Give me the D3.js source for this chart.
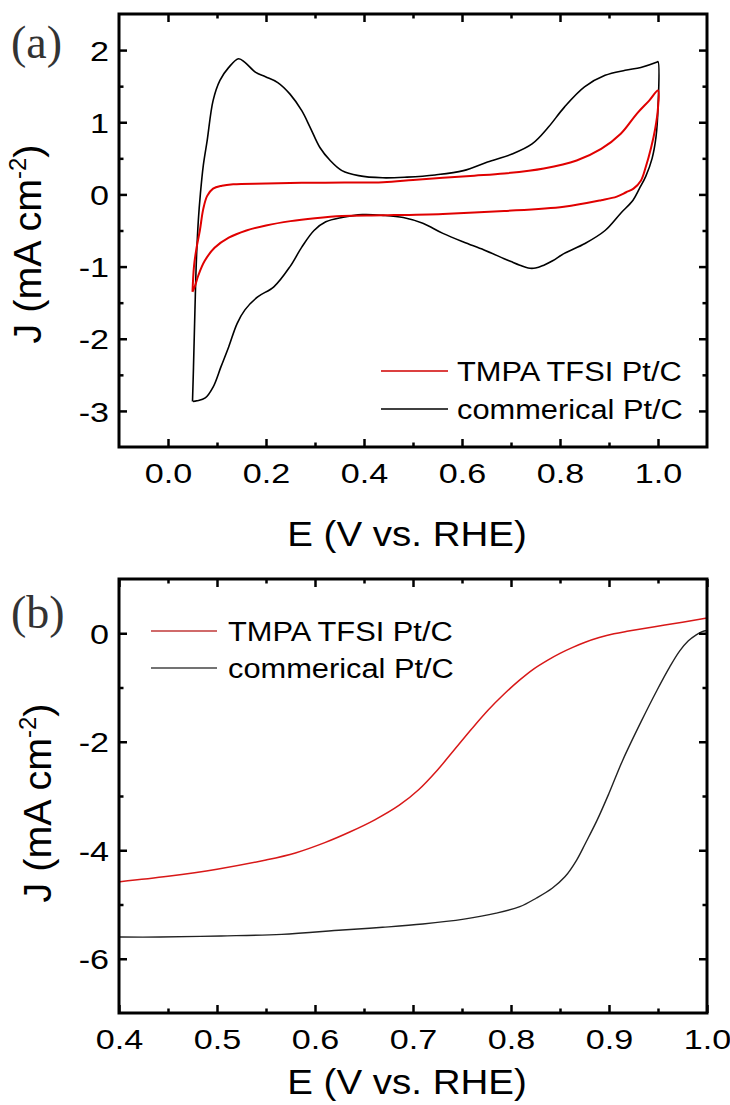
<!DOCTYPE html>
<html>
<head>
<meta charset="utf-8">
<script src="https://cdn.jsdelivr.net/npm/d3@7"></script>
<style>
  html, body { margin: 0; padding: 0; background: #fff; }
  svg { display: block; }
</style>
</head>
<body>
<div id="chart"></div>
<script>
// ---------------- DATA ----------------
// Panel (a): cyclic voltammograms (E in V vs RHE, J in mA cm^-2), closed loops
const cvCommE = [0.050, 0.052, 0.055, 0.058, 0.062, 0.066, 0.072, 0.080, 0.092, 0.106, 0.124, 0.144, 0.157, 0.179, 0.199, 0.224, 0.249, 0.273, 0.290, 0.310, 0.331, 0.355, 0.389, 0.438, 0.488, 0.545, 0.603, 0.652, 0.702, 0.743, 0.776, 0.809, 0.850, 0.892, 0.933, 0.965, 0.997, 1.000, 1.000, 0.996, 0.988, 0.975, 0.962, 0.949, 0.924, 0.892, 0.851, 0.808, 0.785, 0.767, 0.750, 0.735, 0.718, 0.700, 0.686, 0.645, 0.603, 0.561, 0.520, 0.480, 0.439, 0.397, 0.355, 0.322, 0.298, 0.273, 0.249, 0.216, 0.183, 0.157, 0.141, 0.124, 0.108, 0.092, 0.076, 0.059, 0.051];
const cvCommJ = [-2.87, -2.40, -1.60, -0.90, -0.35, 0.00, 0.40, 0.75, 1.30, 1.58, 1.76, 1.88, 1.83, 1.69, 1.63, 1.55, 1.39, 1.16, 0.93, 0.65, 0.47, 0.33, 0.26, 0.23, 0.24, 0.27, 0.33, 0.45, 0.56, 0.70, 0.93, 1.21, 1.49, 1.65, 1.72, 1.76, 1.83, 1.84, 1.20, 0.80, 0.50, 0.25, 0.08, -0.08, -0.26, -0.50, -0.68, -0.82, -0.92, -0.98, -1.02, -1.02, -0.98, -0.93, -0.89, -0.77, -0.66, -0.54, -0.40, -0.32, -0.29, -0.28, -0.32, -0.38, -0.50, -0.73, -1.00, -1.28, -1.42, -1.60, -1.79, -2.11, -2.39, -2.67, -2.82, -2.86, -2.87];

const cvTmpaE = [0.050, 0.053, 0.058, 0.065, 0.072, 0.080, 0.092, 0.110, 0.133, 0.200, 0.273, 0.360, 0.439, 0.500, 0.561, 0.625, 0.686, 0.767, 0.834, 0.884, 0.924, 0.957, 0.982, 1.000, 1.000, 0.994, 0.986, 0.975, 0.965, 0.950, 0.935, 0.916, 0.884, 0.808, 0.686, 0.561, 0.439, 0.355, 0.300, 0.250, 0.200, 0.160, 0.124, 0.095, 0.075, 0.062, 0.055, 0.050];
const cvTmpaJ = [-1.35, -1.00, -0.75, -0.50, -0.20, -0.02, 0.08, 0.12, 0.14, 0.15, 0.16, 0.165, 0.17, 0.20, 0.23, 0.26, 0.29, 0.36, 0.47, 0.63, 0.84, 1.12, 1.30, 1.44, 1.20, 0.90, 0.65, 0.38, 0.19, 0.08, 0.03, -0.03, -0.08, -0.17, -0.23, -0.27, -0.29, -0.30, -0.33, -0.37, -0.43, -0.50, -0.60, -0.74, -0.92, -1.12, -1.27, -1.35];

// Panel (b): linear sweep voltammograms
const lsvTmpaE = [0.401, 0.450, 0.500, 0.550, 0.580, 0.610, 0.636, 0.661, 0.686, 0.706, 0.725, 0.743, 0.760, 0.777, 0.793, 0.809, 0.823, 0.838, 0.850, 0.863, 0.875, 0.890, 0.905, 0.920, 0.957, 1.000];
const lsvTmpaJ = [-4.58, -4.48, -4.35, -4.18, -4.05, -3.86, -3.66, -3.44, -3.17, -2.88, -2.52, -2.13, -1.76, -1.41, -1.12, -0.86, -0.66, -0.49, -0.37, -0.26, -0.17, -0.08, -0.01, 0.04, 0.15, 0.28];

const lsvCommE = [0.401, 0.442, 0.504, 0.566, 0.628, 0.669, 0.710, 0.752, 0.785, 0.809, 0.826, 0.842, 0.855, 0.867, 0.876, 0.888, 0.900, 0.914, 0.933, 0.949, 0.962, 0.972, 0.981, 0.989, 0.995, 1.000];
const lsvCommJ = [-5.60, -5.60, -5.58, -5.55, -5.47, -5.42, -5.36, -5.27, -5.16, -5.04, -4.88, -4.70, -4.49, -4.18, -3.87, -3.44, -2.95, -2.34, -1.62, -1.05, -0.62, -0.33, -0.14, -0.03, 0.03, 0.05];

const seriesNames = ["TMPA TFSI Pt/C", "commerical Pt/C"];
const panelLabels = ["(a)", "(b)"];

const aXMajor = [0.0, 0.2, 0.4, 0.6, 0.8, 1.0];
const aXMinor = [0.1, 0.3, 0.5, 0.7, 0.9];
const aYMajor = [-3, -2, -1, 0, 1, 2];
const aYMinor = [-2.5, -1.5, -0.5, 0.5, 1.5];
const bXMajor = [0.4, 0.5, 0.6, 0.7, 0.8, 0.9, 1.0];
const bXMinor = [0.45, 0.55, 0.65, 0.75, 0.85, 0.95];
const bYMajor = [-6, -4, -2, 0];
const bYMinor = [-5, -3, -1];

// ---------------- DRAW ----------------
const W = 730, H = 1105;
const SANS = "Liberation Sans, Arial, sans-serif";
const SERIF = "Liberation Serif, Times New Roman, serif";
const svg = d3.select("#chart").append("svg").attr("width", W).attr("height", H)
  .attr("font-family", SANS);

function zip(E, J) { return E.map((e, i) => [e, J[i]]); }

function panel(opts) {
  const { x, y, xMajor, xMinor, yMajor, yMinor, xFmt, yFmt, xLabelY, yLabelX, yLabelC } = opts;
  const [x0, x1] = x.range();
  const [yb, yt] = y.range();
  const g = svg.append("g");
  const MAJ = 8, MIN = 4.5;

  function styleAxis(sel) {
    sel.select(".domain").remove();
    sel.selectAll("line").attr("stroke", "#000").attr("stroke-width", 2.5);
  }
  // bottom
  const gb = g.append("g").attr("transform", `translate(0,${yb})`)
    .call(d3.axisBottom(x).tickValues(xMajor).tickSize(-MAJ).tickFormat(xFmt));
  styleAxis(gb);
  gb.selectAll("text").attr("y", 36).attr("dy", null)
    .attr("font-size", 28).attr("transform", "scale(1.22,1)")
    .attr("font-family", SANS).attr("fill", "#000");
  styleAxis(g.append("g").attr("transform", `translate(0,${yb})`)
    .call(d3.axisBottom(x).tickValues(xMinor).tickSize(-MIN).tickFormat("")));
  // top
  styleAxis(g.append("g").attr("transform", `translate(0,${yt})`)
    .call(d3.axisTop(x).tickValues(xMajor).tickSize(-MAJ).tickFormat("")));
  styleAxis(g.append("g").attr("transform", `translate(0,${yt})`)
    .call(d3.axisTop(x).tickValues(xMinor).tickSize(-MIN).tickFormat("")));
  // left
  const gl = g.append("g").attr("transform", `translate(${x0},0)`)
    .call(d3.axisLeft(y).tickValues(yMajor).tickSize(-MAJ).tickFormat(yFmt));
  styleAxis(gl);
  gl.selectAll("text").attr("x", -10 / 1.22).attr("dy", "0.36em")
    .attr("font-size", 28).attr("transform", "scale(1.22,1)")
    .attr("font-family", SANS).attr("fill", "#000");
  styleAxis(g.append("g").attr("transform", `translate(${x0},0)`)
    .call(d3.axisLeft(y).tickValues(yMinor).tickSize(-MIN).tickFormat("")));
  // right
  styleAxis(g.append("g").attr("transform", `translate(${x1},0)`)
    .call(d3.axisRight(y).tickValues(yMajor).tickSize(-MAJ).tickFormat("")));
  styleAxis(g.append("g").attr("transform", `translate(${x1},0)`)
    .call(d3.axisRight(y).tickValues(yMinor).tickSize(-MIN).tickFormat("")));

  // axis titles
  g.append("text").attr("text-anchor", "middle")
    .attr("transform", `translate(${(x0 + x1) / 2 - 6},${xLabelY}) scale(1.1,1)`)
    .attr("font-size", 35).text("E (V vs. RHE)");
  const yl = g.append("text").attr("text-anchor", "middle")
    .attr("transform", `translate(${yLabelX},${yLabelC}) rotate(-90) scale(1.04,1)`)
    .attr("font-size", 38);
  yl.append("tspan").text("J (mA cm");
  yl.append("tspan").attr("font-size", 23).attr("dy", -15).text("-2");
  yl.append("tspan").attr("dy", 15).text(")");
  return g;
}

// Panel (a)
const xA = d3.scaleLinear().domain([-0.1, 1.1]).range([119, 707]);
const yA = d3.scaleLinear().domain([-3.5, 2.5]).range([447, 14]);
// Panel (b)
const xB = d3.scaleLinear().domain([0.4, 1.0]).range([119, 707]);
const yB = d3.scaleLinear().domain([-7, 1]).range([1013, 579]);

const lineA = d3.line().x(d => xA(d[0])).y(d => yA(d[1])).curve(d3.curveCatmullRom.alpha(0.5));
const lineB = d3.line().x(d => xB(d[0])).y(d => yB(d[1])).curve(d3.curveCatmullRom.alpha(0.5));

// curves (a)
svg.append("path").datum(zip(cvCommE, cvCommJ)).attr("d", lineA)
  .attr("fill", "none").attr("stroke", "#000").attr("stroke-width", 1.6);
svg.append("path").datum(zip(cvTmpaE, cvTmpaJ)).attr("d", lineA)
  .attr("fill", "none").attr("stroke", "#e00000").attr("stroke-width", 2);
// curves (b)
svg.append("path").datum(zip(lsvCommE, lsvCommJ)).attr("d", lineB)
  .attr("fill", "none").attr("stroke", "#222").attr("stroke-width", 1.4);
svg.append("path").datum(zip(lsvTmpaE, lsvTmpaJ)).attr("d", lineB)
  .attr("fill", "none").attr("stroke", "#d81818").attr("stroke-width", 1.5);

const intFmt = d => d3.format("d")(d).replace("\u2212", "-");
panel({ x: xA, y: yA, xMajor: aXMajor, xMinor: aXMinor, yMajor: aYMajor, yMinor: aYMinor,
  xFmt: d3.format(".1f"), yFmt: intFmt, xLabelY: 546, yLabelX: 41, yLabelC: 244 });
panel({ x: xB, y: yB, xMajor: bXMajor, xMinor: bXMinor, yMajor: bYMajor, yMinor: bYMinor,
  xFmt: d3.format(".1f"), yFmt: intFmt, xLabelY: 1094, yLabelX: 51, yLabelC: 803 });

// frames
[[xA, yA], [xB, yB]].forEach(([x, y]) => {
  const [x0, x1] = x.range(); const [yb, yt] = y.range();
  svg.append("rect").attr("x", x0).attr("y", yt).attr("width", x1 - x0).attr("height", yb - yt)
    .attr("fill", "none").attr("stroke", "#000").attr("stroke-width", 3);
});

// legends
function legend(lx0, lx1, tx, ys, colors, widths) {
  seriesNames.forEach((name, i) => {
    svg.append("line").attr("x1", lx0).attr("x2", lx1).attr("y1", ys[i]).attr("y2", ys[i])
      .attr("stroke", colors[i]).attr("stroke-width", widths[i]);
    svg.append("text").attr("transform", `translate(${tx},${ys[i] + 10}) scale(1.1,1)`)
      .attr("font-size", 28).attr("fill", "#000").text(name);
  });
}
legend(381, 448, 457, [371, 409], ["#d00000", "#000"], [1.5, 1.5]);
legend(151, 217, 228, [631, 668], ["#c03838", "#444"], [1.5, 1.5]);

// panel labels
svg.append("text").attr("x", 11).attr("y", 58).attr("font-size", 46)
  .attr("font-family", SERIF).attr("fill", "#333").text(panelLabels[0]);
svg.append("text").attr("x", 11).attr("y", 628).attr("font-size", 46)
  .attr("font-family", SERIF).attr("fill", "#333").text(panelLabels[1]);
</script>
</body>
</html>
